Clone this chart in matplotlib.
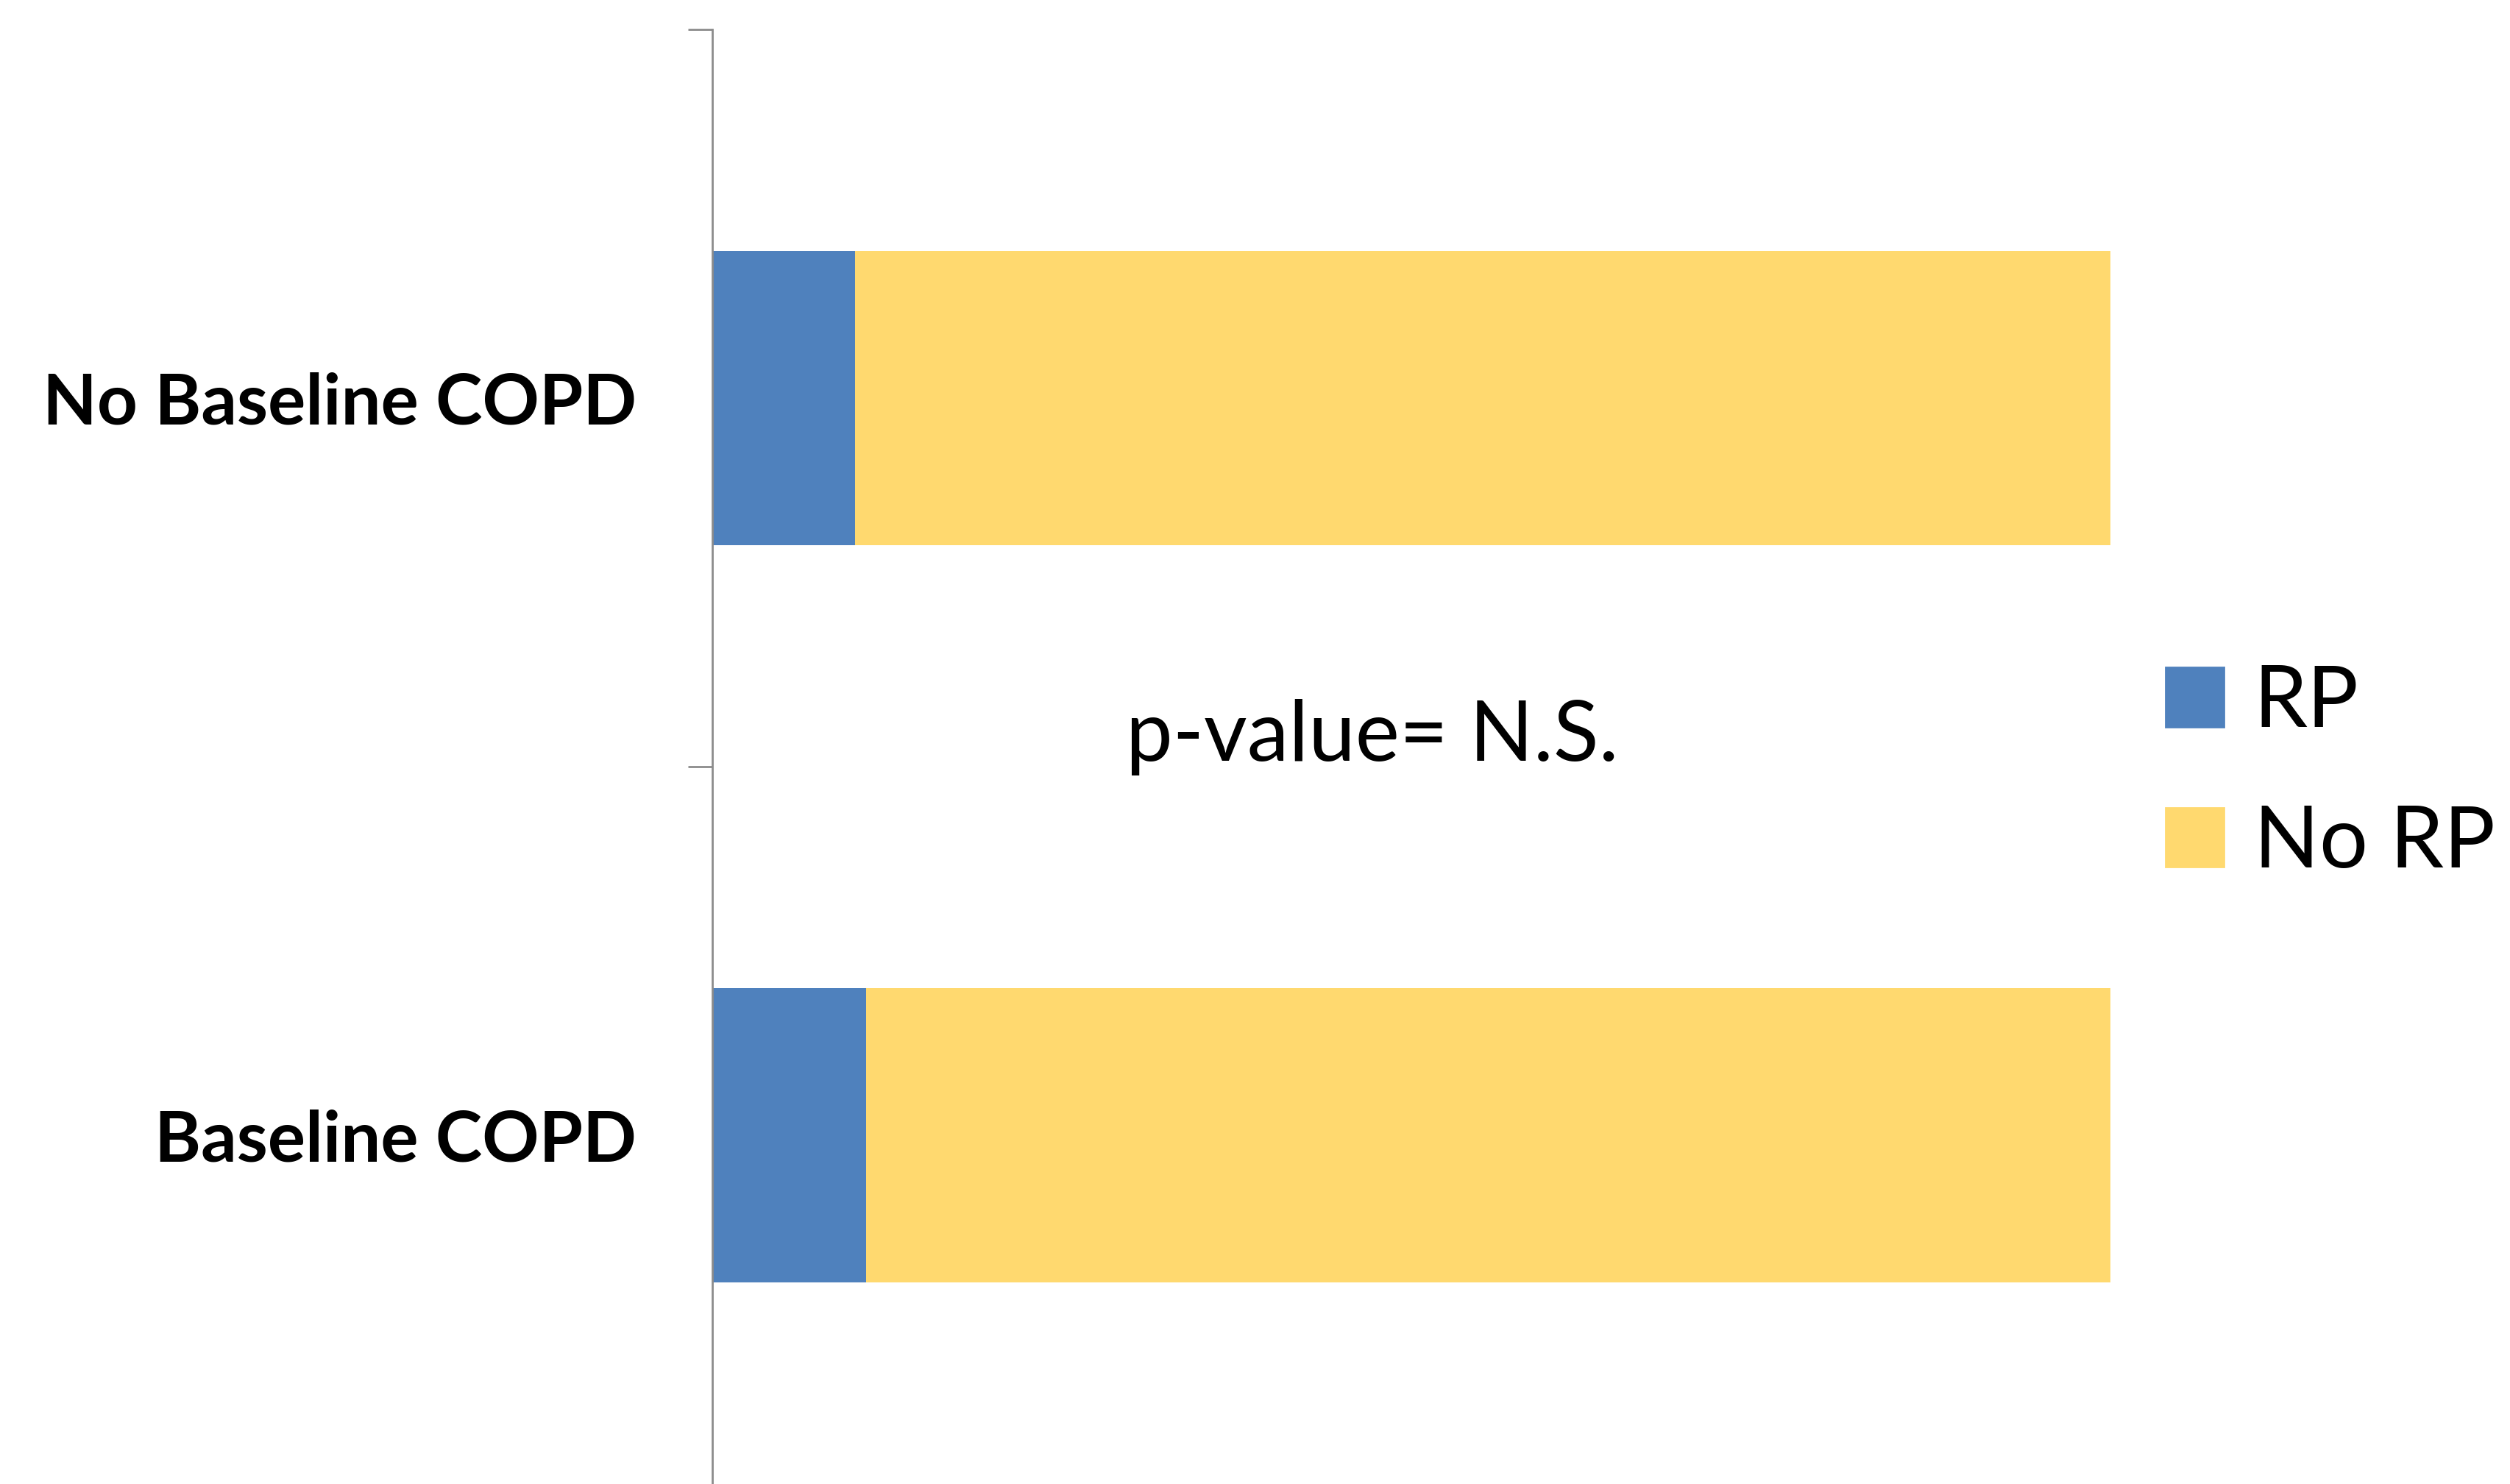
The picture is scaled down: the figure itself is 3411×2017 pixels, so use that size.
import matplotlib
matplotlib.use("Agg")
import matplotlib.pyplot as plt
import matplotlib.patches as mpatches

categories = ["Baseline COPD", "No Baseline COPD"]
rp_pct = [11.0, 10.2]
no_rp_pct = [89.0, 89.8]
series_names = ["RP", "No RP"]
BLUE = "#4F81BD"
YELLOW = "#FFD96F"
AXIS_GREY = "#8C8C8C"

plt.rcParams["font.family"] = ["Lato", "DejaVu Sans"]

DPI = 200
fig = plt.figure(figsize=(3412 / DPI, 2017 / DPI), dpi=DPI)
# axes reaches a bit below the figure, like the cropped original
ax = fig.add_axes([968 / 3412, -27 / 2017, 1900 / 3412, 2004 / 2017])

ypos = list(range(len(categories)))
ax.barh(ypos, rp_pct, height=0.4, color=BLUE, label=series_names[0])
ax.barh(ypos, no_rp_pct, left=rp_pct, height=0.4, color=YELLOW, label=series_names[1])

ax.set_xlim(0, 100)
ax.set_ylim(-0.5, 1.5)

for side in ["top", "right", "bottom"]:
    ax.spines[side].set_visible(False)
ax.spines["left"].set_color(AXIS_GREY)
ax.spines["left"].set_linewidth(1.0)

ax.set_xticks([])
ax.set_yticks([-0.5, 0.5, 1.5])
ax.set_yticklabels([])
ax.tick_params(axis="y", which="major", length=12, width=1.0, color=AXIS_GREY)
ax.set_yticks(ypos, minor=True)
ax.set_yticklabels(categories, minor=True, fontsize=34.5, fontweight="bold")
ax.tick_params(axis="y", which="minor", length=0, pad=37)

ax.text(29.6, 0.508, "p-value= N.S.", fontsize=41, ha="left", va="baseline")

handles = [mpatches.Patch(color=BLUE, label=series_names[0]),
           mpatches.Patch(color=YELLOW, label=series_names[1])]
fig.legend(handles=handles, loc="center left", bbox_to_anchor=(2896 / 3412, 1 - 1051 / 2017),
           frameon=False, fontsize=42, handlelength=0.68, handleheight=0.68,
           handletextpad=0.35, labelspacing=0.73, borderaxespad=0)

fig.savefig("out.png", dpi=DPI)
